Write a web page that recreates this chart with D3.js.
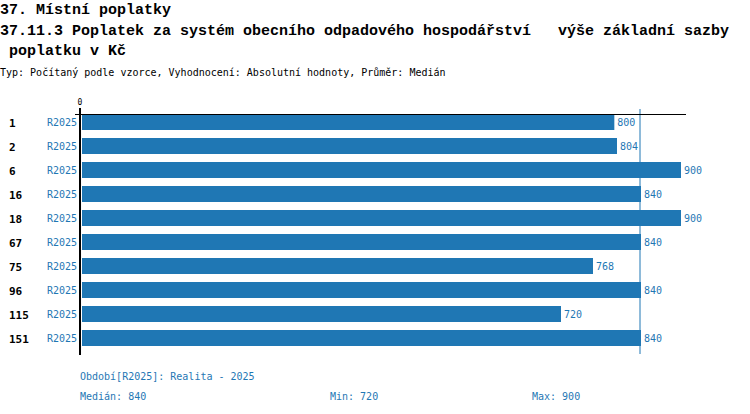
<!DOCTYPE html>
<html>
<head>
<meta charset="utf-8">
<script src="https://cdn.jsdelivr.net/npm/d3@7"></script>
<style>
  body { margin: 0; background: #fff; }
  svg { display: block; font-family: "DejaVu Sans Mono", monospace; }
</style>
</head>
<body>
<div id="chart"></div>
<script>
// Data
const categories = ['1', '2', '6', '16', '18', '67', '75', '96', '115', '151'];
const periods = ['R2025', 'R2025', 'R2025', 'R2025', 'R2025', 'R2025', 'R2025', 'R2025', 'R2025', 'R2025'];
const values = [800, 804, 900, 840, 900, 840, 768, 840, 720, 840];
const titleLines = [
  '37. Místní poplatky',
  '37.11.3 Poplatek za systém obecního odpadového hospodářství   výše základní sazby',
  ' poplatku v Kč'
];
const subtitle = 'Typ: Počítaný podle vzorce, Vyhodnocení: Absolutní hodnoty, Průměr: Medián';
const legendText = 'Období[R2025]: Realita - 2025';
const stats = [
  { label: 'Medián', value: d3.median(values) },
  { label: 'Min', value: d3.min(values) },
  { label: 'Max', value: d3.max(values) }
];

const width = 750;
const height = 414;
const blue = '#1f77b4';

const svg = d3.select('#chart')
  .append('svg')
  .attr('width', width)
  .attr('height', height);

// Titles
const titleY = [14, 35, 55];
titleLines.forEach((t, i) => {
  svg.append('text')
    .attr('x', 0)
    .attr('y', titleY[i])
    .attr('font-family', '"Liberation Mono", monospace')
    .attr('font-size', '15px')
    .attr('font-weight', 'bold')
    .attr('fill', '#000')
    .style('white-space', 'pre')
    .text(t);
});

svg.append('text')
  .attr('x', 0)
  .attr('y', 76)
  .attr('font-size', '10px')
  .attr('fill', '#000')
  .text(subtitle);

// Scales
const x = d3.scaleLinear().domain([0, 900]).range([81, 681]);
const y = d3.scaleBand()
  .domain(categories)
  .range([110, 350])
  .paddingInner(1 / 3)
  .paddingOuter(1 / 6);

// Median reference line
const med = d3.median(values);
svg.append('line')
  .attr('x1', x(med) - 1).attr('x2', x(med) - 1)
  .attr('y1', 109).attr('y2', 354)
  .attr('stroke', blue)
  .attr('stroke-width', 1);

// Bars
const rows = categories.map((c, i) => ({ cat: c, period: periods[i], value: values[i] }));

svg.append('g')
  .selectAll('rect')
  .data(rows)
  .join('rect')
  .attr('x', x(0) + 1)
  .attr('y', d => y(d.cat))
  .attr('width', d => x(d.value) - x(0) - 1)
  .attr('height', y.bandwidth())
  .attr('fill', blue);

// Value labels
svg.append('g')
  .selectAll('text')
  .data(rows)
  .join('text')
  .attr('x', d => x(d.value) + 3)
  .attr('y', d => y(d.cat) + y.bandwidth() / 2 + 4)
  .attr('font-size', '10px')
  .attr('fill', blue)
  .text(d => d.value);

// Category labels
svg.append('g')
  .selectAll('text')
  .data(rows)
  .join('text')
  .attr('x', 9)
  .attr('y', d => y(d.cat) + y.bandwidth() / 2 + 4.5)
  .attr('font-size', '11px')
  .attr('font-weight', 'bold')
  .attr('fill', '#000')
  .text(d => d.cat);

// Period labels
svg.append('g')
  .selectAll('text')
  .data(rows)
  .join('text')
  .attr('x', 77)
  .attr('y', d => y(d.cat) + y.bandwidth() / 2 + 4)
  .attr('text-anchor', 'end')
  .attr('font-size', '10px')
  .attr('fill', blue)
  .text(d => d.period);

// Axes lines
svg.append('line')
  .attr('x1', 75).attr('x2', 686)
  .attr('y1', 114.5).attr('y2', 114.5)
  .attr('stroke', '#000')
  .attr('stroke-width', 1);

svg.append('line')
  .attr('x1', 80).attr('x2', 80)
  .attr('y1', 108).attr('y2', 355)
  .attr('stroke', '#000')
  .attr('stroke-width', 2);

svg.append('text')
  .attr('x', x(0) - 1)
  .attr('y', 105)
  .attr('text-anchor', 'middle')
  .attr('font-size', '8px')
  .attr('fill', '#000')
  .text(x.ticks(1)[0]);

// Footer
svg.append('text')
  .attr('x', 80)
  .attr('y', 380)
  .attr('font-size', '10px')
  .attr('fill', blue)
  .text(legendText);

const statX = [80, 330, 532];
stats.forEach((s, i) => {
  svg.append('text')
    .attr('x', statX[i])
    .attr('y', 400)
    .attr('font-size', '10px')
    .attr('fill', blue)
    .text(`${s.label}: ${s.value}`);
});
</script>
</body>
</html>
